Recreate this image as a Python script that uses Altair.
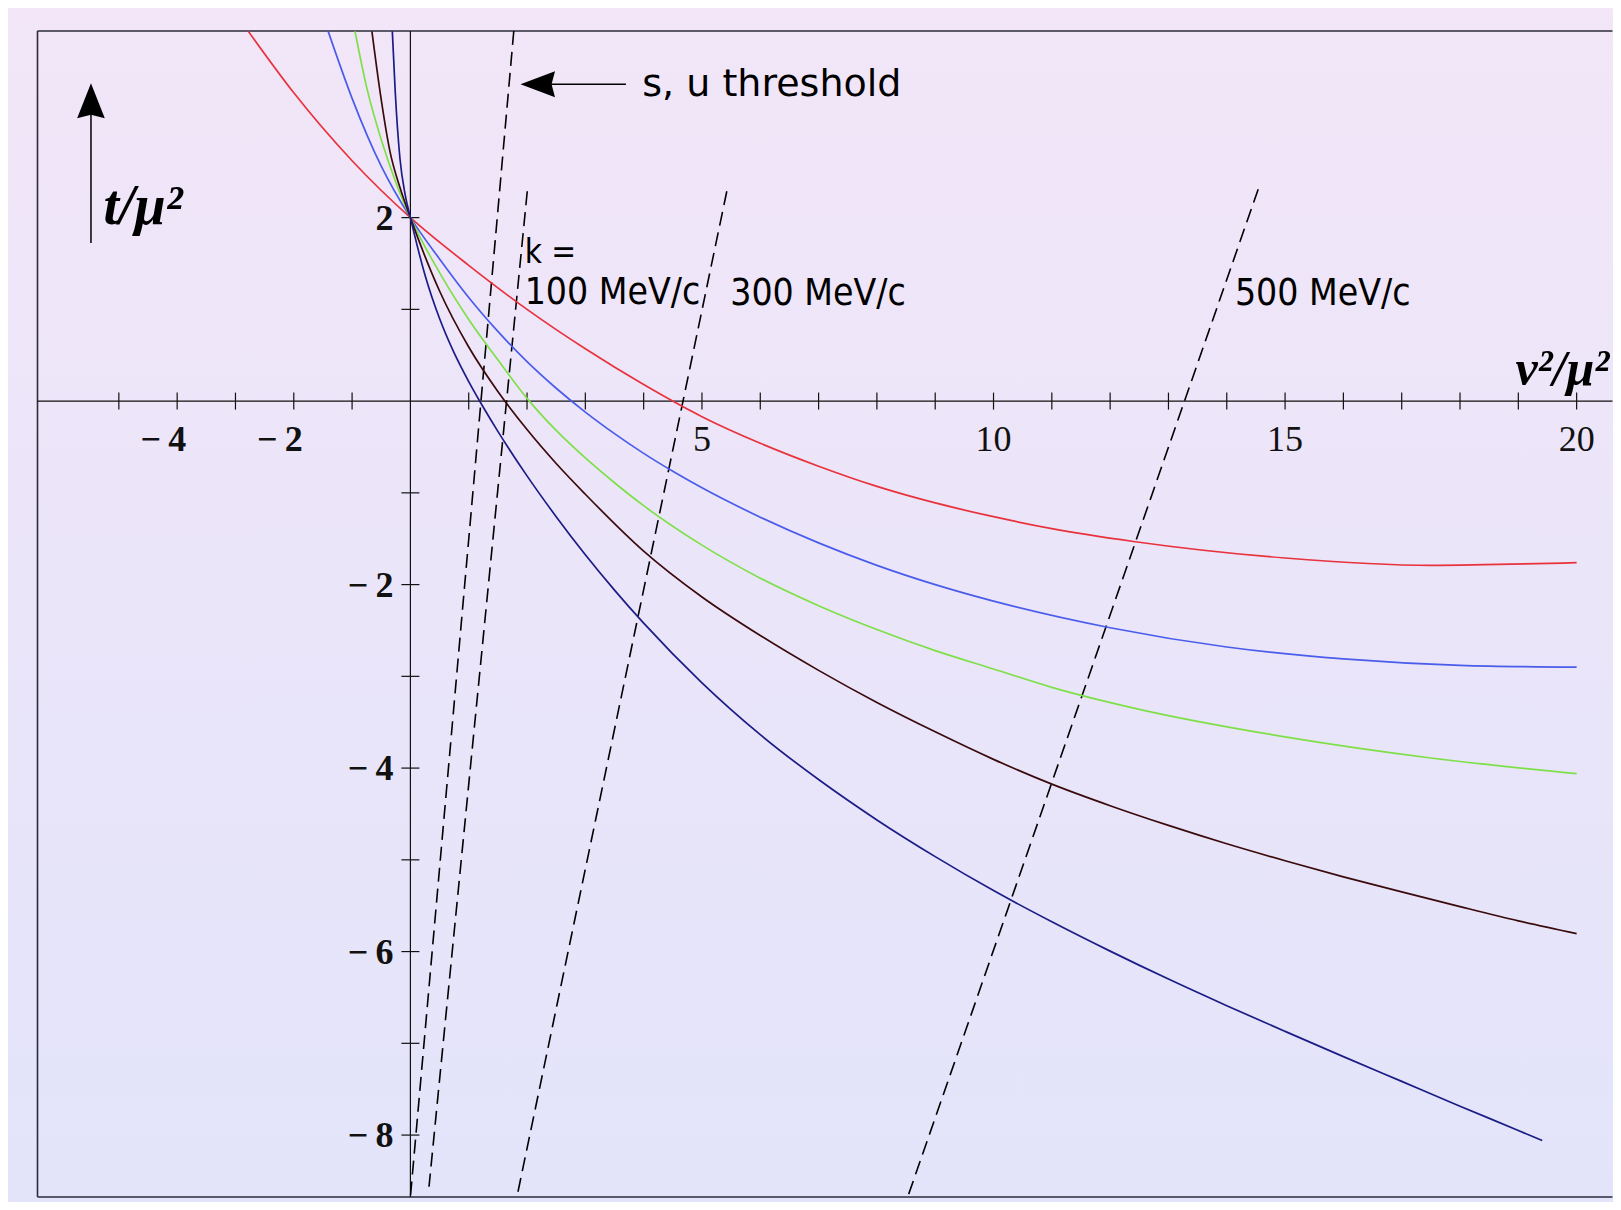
import altair as alt
import pandas as pd

# ---------------- data ----------------
X_MIN, X_MAX = -6.395, 20.615
Y_MIN, Y_MAX = -8.675, 4.034

red_x = [-2.78, -2.0, -1.0, 0.0, 1.0, 2.0, 3.0, 4.0, 5.0, 6.0, 7.0, 8.0, 9.0, 10.0, 11.0, 12.4, 15.0, 17.5, 20.0]
red_y = [4.03, 3.36, 2.62, 2.0, 1.48, 1.00, 0.57, 0.18, -0.17, -0.46, -0.71, -0.93, -1.11, -1.26, -1.39, -1.53, -1.71, -1.79, -1.76]

blue_x = [-1.41, -1.0, -0.5, 0.0, 0.5, 1.0, 1.5, 2.0, 2.5, 3.0, 3.5, 4.0, 4.5, 5.0, 6.0, 7.0, 8.0, 9.0, 10.0, 12.0, 14.0, 16.0, 18.0, 20.0]
blue_y = [4.03, 3.30, 2.56, 2.0, 1.55, 1.13, 0.76, 0.43, 0.14, -0.12, -0.355, -0.57, -0.765, -0.945, -1.265, -1.545, -1.79, -2.0, -2.18, -2.47, -2.68, -2.81, -2.88, -2.90]

green_x = [-0.95, -0.75, -0.49, -0.235, 0.0, 0.5, 1.0, 1.5, 2.0, 2.5, 3.0, 3.5, 4.0, 5.0, 6.0, 7.0, 8.0, 9.0, 10.0, 11.0, 12.5, 15.0, 17.5, 20.0]
green_y = [4.03, 3.42, 2.83, 2.36, 2.0, 1.40, 0.89, 0.45, 0.03, -0.32, -0.62, -0.89, -1.14, -1.57, -1.93, -2.23, -2.49, -2.72, -2.92, -3.12, -3.36, -3.66, -3.89, -4.06]

brown_x = [-0.66, -0.52, -0.35, -0.18, 0.0, 0.5, 1.0, 1.5, 2.0, 2.5, 3.0, 4.0, 5.0, 6.0, 7.0, 8.0, 9.0, 10.0, 11.0, 12.0, 13.0, 14.0, 15.0, 16.0, 17.0, 18.0, 19.0, 20.0]
brown_y = [4.03, 3.37, 2.72, 2.33, 2.0, 1.20, 0.59, 0.105, -0.31, -0.68, -1.015, -1.635, -2.135, -2.555, -2.935, -3.285, -3.605, -3.905, -4.175, -4.41, -4.625, -4.825, -5.01, -5.185, -5.35, -5.51, -5.665, -5.805]

navy_x = [-0.31, -0.26, -0.18, -0.09, 0.0, 0.25, 0.5, 0.75, 1.0, 1.25, 1.5, 2.0, 2.5, 3.0, 3.5, 4.0, 5.0, 6.0, 7.0, 8.0, 9.0, 10.0, 11.0, 12.0, 13.0, 14.0, 15.0, 16.0, 17.0, 18.0, 19.0, 19.41]
navy_y = [4.03, 3.37, 2.65, 2.25, 2.0, 1.375, 0.90, 0.525, 0.2125, -0.0675, -0.33, -0.815, -1.26, -1.675, -2.06, -2.42, -3.07, -3.635, -4.125, -4.565, -4.965, -5.335, -5.675, -5.995, -6.30, -6.59, -6.87, -7.145, -7.415, -7.685, -7.95, -8.06]

curve_names = ["red", "blue", "green", "brown", "navy"]
curve_colors = ["#E8323C", "#4A5CEB", "#7EE048", "#3A0A0C", "#1C1C86"]

# dashed lines (threshold, k = 100, 300, 500 MeV/c): end points
dash_x1 = [1.773, 2.004, 5.426, 14.539]
dash_y1 = [4.034, 2.287, 2.287, 2.310]
dash_x2 = [0.0, 0.319, 1.826, 8.528]
dash_y2 = [-8.675, -8.563, -8.675, -8.675]

# ticks and tick labels
xticks = [-5, -4, -3, -2, -1] + list(range(1, 21))
yticks = [2, 1, -1, -2, -3, -4, -5, -6, -7, -8]
xlab_neg_vals = [-4, -2]
xlab_neg_text = ["\u2212\u20094", "\u2212\u20092"]
xlab_pos_vals = [5, 10, 15, 20]
xlab_pos_text = ["5", "10", "15", "20"]
ylab_vals = [2, -2, -4, -6, -8]
ylab_text = ["2", "\u2212\u20092", "\u2212\u20094", "\u2212\u20096", "\u2212\u20098"]

# annotations
thr_text, thr_x, thr_y = "s, u threshold", 3.977, 3.329
k_text, k_x, k_y = "k =", 1.96, 1.508
mev_text = ["100 MeV/c", "300 MeV/c", "500 MeV/c"]
mev_x = [1.96, 5.485, 14.14]
mev_y = [1.06, 1.05, 1.05]
tlab_text, tlab_x, tlab_y = "t/\u03bc\u00b2", -5.265, 1.93
nulab_text, nulab_x, nulab_y = "\u03bd\u00b2/\u03bc\u00b2", 18.95, 0.175

up_arrow_x = -5.478
up_arrow_y = [1.723, 3.30]
up_head = (-5.478, 3.273)
left_arrow_y = 3.453
left_arrow_x = [3.697, 2.20]
left_head = (2.184, 3.453)

# ---------------- chart ----------------
W, H = 1575, 1166
XS = alt.Scale(domain=[X_MIN, X_MAX], nice=False, zero=False)
YS = alt.Scale(domain=[Y_MIN, Y_MAX], nice=False, zero=False)


def X(f):
    return alt.X(f, type="quantitative", scale=XS, axis=None)


def Y(f):
    return alt.Y(f, type="quantitative", scale=YS, axis=None)


one = pd.DataFrame({"a": [0]})
bg = alt.Chart(one).mark_rect(
    fill=alt.LinearGradient(
        gradient="linear", x1=0, y1=0, x2=0, y2=1,
        stops=[alt.GradientStop(offset=0, color="#F2E6F8"),
               alt.GradientStop(offset=1, color="#E3E4FA")],
    )
).encode(x=alt.value(-30), x2=alt.value(W + 1), y=alt.value(-23), y2=alt.value(H + 5))

frame_df = pd.DataFrame({
    "x": [X_MIN, X_MIN, X_MIN],
    "y": [Y_MAX, Y_MIN, Y_MIN],
    "x2": [X_MAX, X_MIN, X_MAX],
    "y2": [Y_MAX, Y_MAX, Y_MIN],
})
frame = alt.Chart(frame_df).mark_rule(color="#2B2B3A", strokeWidth=1.6).encode(
    x=X("x"), y=Y("y"), x2="x2", y2="y2")

axes_df = pd.DataFrame({"x": [X_MIN, 0.0], "y": [0.0, Y_MIN], "x2": [X_MAX, 0.0], "y2": [0.0, Y_MAX]})
axes = alt.Chart(axes_df).mark_rule(color="#111111", strokeWidth=1.2).encode(
    x=X("x"), y=Y("y"), x2="x2", y2="y2")

xt_df = pd.DataFrame({"x": xticks, "y": [0.0] * len(xticks)})
xt = alt.Chart(xt_df).mark_rule(color="#111111", strokeWidth=1.2, yOffset=-8.5, y2Offset=8.5).encode(
    x=X("x"), y=Y("y"), y2="y")
yt_df = pd.DataFrame({"y": yticks, "x": [0.0] * len(yticks)})
yt = alt.Chart(yt_df).mark_rule(color="#111111", strokeWidth=1.2, xOffset=-9, x2Offset=9).encode(
    x=X("x"), x2="x", y=Y("y"))

serif = "Liberation Serif, Times New Roman, serif"
xl_neg = alt.Chart(pd.DataFrame({"x": xlab_neg_vals, "y": [0.0] * 2, "t": xlab_neg_text})).mark_text(
    font=serif, fontSize=36, fontWeight="bold", align="right", baseline="alphabetic", dx=9, dy=50,
    color="#111111").encode(x=X("x"), y=Y("y"), text="t:N")
xl_pos = alt.Chart(pd.DataFrame({"x": xlab_pos_vals, "y": [0.0] * 4, "t": xlab_pos_text})).mark_text(
    font=serif, fontSize=36, align="center", baseline="alphabetic", dy=50,
    color="#111111").encode(x=X("x"), y=Y("y"), text="t:N")
yl = alt.Chart(pd.DataFrame({"y": ylab_vals, "x": [0.0] * 5, "t": ylab_text})).mark_text(
    font=serif, fontSize=36, fontWeight="bold", align="right", baseline="alphabetic", dx=-17, dy=12,
    color="#111111").encode(x=X("x"), y=Y("y"), text="t:N")

dash_df = pd.DataFrame({"x": dash_x1, "y": dash_y1, "x2": dash_x2, "y2": dash_y2})
dashed = alt.Chart(dash_df).mark_rule(color="#000000", strokeWidth=1.6, strokeDash=[14, 7], clip=True).encode(
    x=X("x"), y=Y("y"), x2="x2", y2="y2")

rows = []
for name, xs, ys in zip(curve_names, [red_x, blue_x, green_x, brown_x, navy_x],
                        [red_y, blue_y, green_y, brown_y, navy_y]):
    for i, (a, b) in enumerate(zip(xs, ys)):
        rows.append({"curve": name, "x": a, "y": b, "i": i})
curves_df = pd.DataFrame(rows)
curves = alt.Chart(curves_df).mark_line(strokeWidth=1.7, interpolate="monotone", clip=True).encode(
    x=X("x"), y=Y("y"),
    color=alt.Color("curve:N", scale=alt.Scale(domain=curve_names, range=curve_colors), legend=None),
    order="i:Q")

sans = "DejaVu Sans, Verdana, sans-serif"
cond = "DejaVu Sans Condensed, DejaVu Sans, sans-serif"
thr = alt.Chart(pd.DataFrame({"x": [thr_x], "y": [thr_y], "t": [thr_text]})).mark_text(
    font=sans, fontSize=38, align="left", baseline="alphabetic", color="#000000").encode(
    x=X("x"), y=Y("y"), text="t:N")
kl = alt.Chart(pd.DataFrame({"x": [k_x], "y": [k_y], "t": [k_text]})).mark_text(
    font=cond, fontSize=33, align="left", baseline="alphabetic", color="#000000").encode(
    x=X("x"), y=Y("y"), text="t:N")
mev = alt.Chart(pd.DataFrame({"x": mev_x, "y": mev_y, "t": mev_text})).mark_text(
    font=cond, fontSize=37, align="left", baseline="alphabetic", color="#000000").encode(
    x=X("x"), y=Y("y"), text="t:N")
tl = alt.Chart(pd.DataFrame({"x": [tlab_x], "y": [tlab_y], "t": [tlab_text]})).mark_text(
    font=serif, fontSize=56, fontStyle="italic", fontWeight="bold", align="left", baseline="alphabetic",
    color="#000000").encode(x=X("x"), y=Y("y"), text="t:N")
nl = alt.Chart(pd.DataFrame({"x": [nulab_x], "y": [nulab_y], "t": [nulab_text]})).mark_text(
    font=serif, fontSize=50, fontStyle="italic", fontWeight="bold", align="left", baseline="alphabetic",
    color="#000000").encode(x=X("x"), y=Y("y"), text="t:N")

arrows_df = pd.DataFrame({
    "x": [up_arrow_x, left_arrow_x[0]], "y": [up_arrow_y[0], left_arrow_y],
    "x2": [up_arrow_x, left_arrow_x[1]], "y2": [up_arrow_y[1], left_arrow_y]})
arrows = alt.Chart(arrows_df).mark_rule(color="#000000", strokeWidth=1.5).encode(
    x=X("x"), y=Y("y"), x2="x2", y2="y2")
up = alt.Chart(pd.DataFrame({"x": [up_head[0]], "y": [up_head[1]]})).mark_point(
    shape="M0,-1L0.79,1L0,0.8L-0.79,1Z", size=1225, filled=True, opacity=1, color="#000000").encode(
    x=X("x"), y=Y("y"))
lf = alt.Chart(pd.DataFrame({"x": [left_head[0]], "y": [left_head[1]]})).mark_point(
    shape="M-1,0L1,-0.75L0.8,0L1,0.75Z", size=1190, filled=True, opacity=1, color="#000000").encode(
    x=X("x"), y=Y("y"))

chart = alt.layer(
    bg, frame, axes, xt, yt, dashed, curves, xl_neg, xl_pos, yl, thr, kl, mev, tl, nl, arrows, up, lf
).properties(
    width=W, height=H,
    padding={"left": 29.5, "top": 23, "right": 0, "bottom": 5},
    autosize=alt.AutoSizeParams(type="none"),
    background="#EEE6F8",
).configure_view(stroke=None)

chart.save("out.html", embed_options={"renderer": "svg", "actions": False})
